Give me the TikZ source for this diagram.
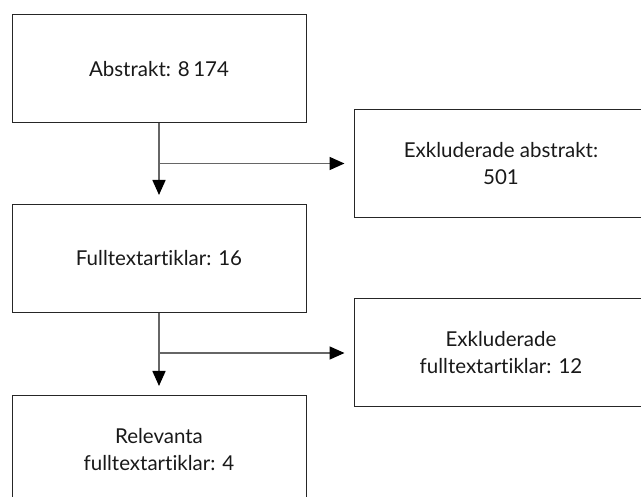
\documentclass[tikz,border=0pt]{standalone}
\usepackage{fontspec}
\setmainfont{Lato}[Ligatures={NoCommon}]
\usetikzlibrary{arrows.meta}
\begin{document}
\begin{tikzpicture}[x=1pt,y=-1pt,
  box/.style={draw=black!85, line width=1pt, minimum width=294pt, minimum height=108pt,
    inner sep=0pt, align=center, font=\fontsize{20.5}{27}\selectfont, text=black!90},
  conn/.style={draw=black!60, line width=1.6pt},
  arr/.style={conn, -{Triangle[length=15pt,width=13pt,color=black]}, shorten >=9pt}]
\useasboundingbox (0,0) rectangle (641,497);
\clip (0,0) rectangle (641,497);
\fill[white] (0,0) rectangle (641,497);
\node[box] (b1) at (159,69) {Abstrakt: 8\,174};
\node[box] (b2) at (159,258.5) {Fulltextartiklar: 16};
\node[box] (b3) at (159,449.5) {Relevanta\\fulltextartiklar: 4};
\node[box] (bA) at (501,163.5) {Exkluderade abstrakt:\\501};
\node[box] (bB) at (501,353) {Exkluderade\\fulltextartiklar: 12};
\coordinate (j1) at (159,163.5);
\coordinate (j2) at (159,353);
\draw[arr] (b1) -- (b2);
\draw[arr] (b2) -- (b3);
\draw[arr] (j1) -- (bA);
\draw[arr] (j2) -- (bB);
\end{tikzpicture}
\end{document}
